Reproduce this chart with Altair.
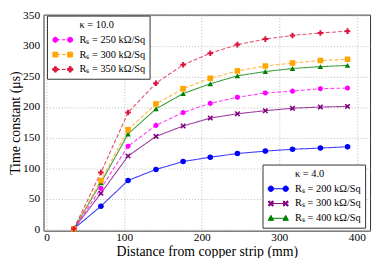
import altair as alt
import pandas as pd

# ---- data ----
distance = [35, 70, 105, 141, 176, 211, 246, 282, 317, 353, 388]

k4_r200 = [1, 38, 80, 98, 111, 118, 124, 128, 131, 133, 135]
k4_r300 = [1, 59, 120, 152, 169, 182, 189, 194, 198, 200, 201]
k4_r400 = [1, 76, 156, 197, 222, 238, 251, 258, 263, 266, 268]
k10_r250 = [1, 67, 136, 170, 191, 206, 216, 223, 226, 230, 231]
k10_r300 = [1, 80, 163, 205, 230, 247, 259, 267, 272, 276, 278]
k10_r350 = [1, 93, 191, 239, 269, 288, 302, 311, 317, 321, 324]

keys = ["k4_200", "k4_300", "k4_400", "k10_250", "k10_300", "k10_350"]
labels = ["Rₛ = 200 kΩ/Sq", "Rₛ = 300 kΩ/Sq", "Rₛ = 400 kΩ/Sq",
          "Rₛ = 250 kΩ/Sq", "Rₛ = 300 kΩ/Sq", "Rₛ = 350 kΩ/Sq"]
groups = ["4.0", "4.0", "4.0", "10.0", "10.0", "10.0"]
values = [k4_r200, k4_r300, k4_r400, k10_r250, k10_r300, k10_r350]
colors = ["#0000ff", "#800080", "#008000", "#ff00ff", "#ffa500", "#dc143c"]
dashes = [[1, 0], [1, 0], [1, 0], [4, 2], [4, 2], [4, 2]]
marker_kinds = ["circle", "x", "triangle", "hexagon", "square", "plus"]
legend_titles = ["κ = 10.0", "κ = 4.0"]

rows = []
for k, lab, g, vals in zip(keys, labels, groups, values):
    for d, v in zip(distance, vals):
        rows.append({"key": k, "label": lab, "kappa": g, "distance": d, "tau": v})
df = pd.DataFrame(rows)

FONT = "Liberation Serif"


def f(v):
    return f"{v:.3f}"


def marker(kind, cx, r):
    if kind == "circle":
        return (f"M{f(cx - r)},0A{f(r)},{f(r)} 0 1,0 {f(cx + r)},0"
                f"A{f(r)},{f(r)} 0 1,0 {f(cx - r)},0Z")
    if kind == "square":
        s = r * 0.9
        return f"M{f(cx - s)},{f(-s)}L{f(cx + s)},{f(-s)}L{f(cx + s)},{f(s)}L{f(cx - s)},{f(s)}Z"
    if kind == "triangle":
        return f"M{f(cx)},{f(-r * 1.1)}L{f(cx + r)},{f(r * 0.75)}L{f(cx - r)},{f(r * 0.75)}Z"
    if kind == "hexagon":
        pts = [(0, -1), (0.866, -0.5), (0.866, 0.5), (0, 1), (-0.866, 0.5), (-0.866, -0.5)]
    elif kind == "plus":
        a = 0.36
        pts = [(-a, -1), (a, -1), (a, -a), (1, -a), (1, a), (a, a), (a, 1), (-a, 1),
               (-a, a), (-1, a), (-1, -a), (-a, -a)]
    else:  # filled x
        pts = [(-1, -0.6), (-0.6, -1), (0, -0.4), (0.6, -1), (1, -0.6), (0.4, 0),
               (1, 0.6), (0.6, 1), (0, 0.4), (-0.6, 1), (-1, 0.6), (-0.4, 0)]
    return "M" + "L".join(f"{f(cx + px * r)},{f(py * r)}" for px, py in pts) + "Z"


def legend_path(kind, dashed):
    x0, x1 = -0.2, 2.8
    if dashed:
        line = "M-0.2,0L0.75,0M1.1,0L1.9,0M2.25,0L2.8,0"
    else:
        line = f"M{x0},0L{x1},0"
    r = 0.55
    return line + marker(kind, x0, r) + marker(kind, x1, r)


point_shapes = ["circle", marker("x", 0, 1), "triangle-up", marker("hexagon", 0, 1),
                "square", marker("plus", 0, 1)]

PLOT_H = 219

x_enc = alt.X("distance:Q",
              scale=alt.Scale(domain=[-4, 417], nice=False, zero=False),
              axis=alt.Axis(values=[0, 100, 200, 300, 400],
                            title="Distance from copper strip (mm)",
                            titleY=25.5, titleBaseline="alphabetic"))
y_enc = alt.Y("tau:Q",
              scale=alt.Scale(domain=[-2, 351], nice=False, zero=False),
              axis=alt.Axis(values=[0, 50, 100, 150, 200, 250, 300, 350],
                            title="Time constant (μs)",
                            titleX=-24, titleY=PLOT_H / 2, titleBaseline="alphabetic",
                            titleAlign="center"))

color_enc = alt.Color("key:N", scale=alt.Scale(domain=keys, range=colors), legend=None)

lines = alt.Chart(df).mark_line(strokeWidth=1.1, opacity=0.75).encode(
    x=x_enc, y=y_enc, color=color_enc,
    strokeDash=alt.StrokeDash("key:N", scale=alt.Scale(domain=keys, range=dashes), legend=None),
)

points = alt.Chart(df).mark_point(filled=True, size=32, opacity=1).encode(
    x=x_enc, y=y_enc, color=color_enc,
    shape=alt.Shape("key:N", scale=alt.Scale(domain=keys, range=point_shapes), legend=None),
)


def legend_layer(idx, title, **pos):
    sub = df[df["key"].isin([keys[i] for i in idx])]
    # the legend heading is shown as a first, symbol-less entry
    dom = [title] + [labels[i] for i in idx]
    rng = ["white"] + [colors[i] for i in idx]
    paths = ["M0,0"] + [legend_path(marker_kinds[i], groups[i] == "10.0") for i in idx]
    leg = alt.Legend(
        title=None,
        labelFont=FONT, labelFontSize=10.5, labelOffset=18, labelColor="black",
        symbolSize=100, symbolStrokeWidth=1, rowPadding=4,
        symbolFillColor="white", symbolStrokeColor="black", symbolOpacity=1,
        padding=4, strokeColor="#333333", fillColor="white", cornerRadius=0,
        **pos,
    )
    return alt.Chart(sub).mark_point(filled=True, opacity=0, size=30).encode(
        x=x_enc, y=y_enc,
        fill=alt.Fill("label:N", scale=alt.Scale(domain=dom, range=rng), legend=leg),
        stroke=alt.Stroke("label:N", scale=alt.Scale(domain=dom, range=rng), legend=leg),
        shape=alt.Shape("label:N", scale=alt.Scale(domain=dom, range=paths), legend=leg),
    )


leg10 = legend_layer([3, 4, 5], legend_titles[0], orient="none", legendX=3.5, legendY=1)
leg4 = legend_layer([0, 1, 2], legend_titles[1], orient="none", legendX=222, legendY=152)

chart = alt.layer(lines, points, leg10, leg4).resolve_scale(
    shape="independent", fill="independent", stroke="independent"
).properties(
    width=331, height=PLOT_H,
    padding={"left": 36, "top": 5, "right": 3, "bottom": 26},
    autosize=alt.AutoSizeParams(type="none"),
).configure_view(
    stroke="#333333", strokeWidth=1
).configure_axis(
    labelFont=FONT, labelFontSize=11.5, labelColor="black",
    titleFont=FONT, titleFontSize=14, titleFontWeight="normal", titleColor="black",
    ticks=False, tickSize=0, domain=False,
    grid=True, gridColor="#aaaaaa", gridDash=[1, 2], gridWidth=0.8,
).configure_axisX(labelPadding=1).configure_axisY(labelPadding=4)

chart.save("out.html", embed_options={"renderer": "svg", "actions": False})
